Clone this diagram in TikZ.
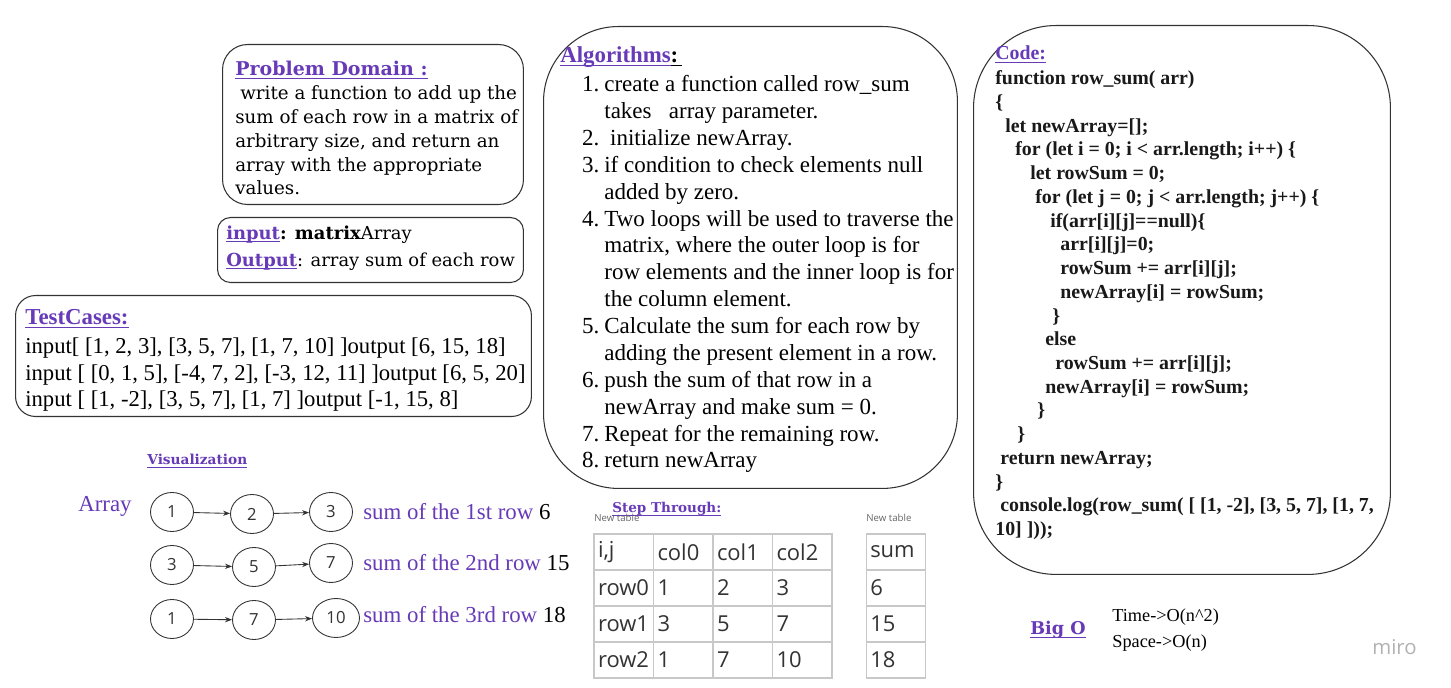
\documentclass[tikz,border=0pt]{standalone}
\usepackage{fontspec}
\setmainfont{Liberation Serif}
\newfontfamily\dvserif{DejaVu Serif}
\newfontfamily\osans{Open Sans}
\usetikzlibrary{positioning,arrows.meta,shapes.geometric}

\definecolor{purp}{RGB}{103,58,183}
\definecolor{inkgray}{RGB}{51,51,51}
\definecolor{gridgray}{RGB}{200,200,200}

\newsavebox{\ulbox}
\newcommand{\uln}[1]{\sbox{\ulbox}{#1}\rlap{\rule[-1.5pt]{\wd\ulbox}{0.45pt}}\usebox{\ulbox}}
\newcommand{\anum}[1]{\makebox[0.34cm][r]{#1}\hspace{0.1cm}}
\newcommand{\acont}{\hspace*{0.44cm}}

\begin{document}
\begin{tikzpicture}[x=0.02cm, y=-0.02cm,
  % Box Styles
  card/.style={rectangle, draw=inkgray, line width=0.6pt, inner sep=0pt, anchor=north west},
  % Text Styles (multi-line texts sit on the baseline of their last line)
  txt/.style={anchor=base west, inner sep=0pt, align=left, text=black},
  head/.style={txt, text=purp},
  bubble/.style={ellipse, draw=inkgray, line width=0.5pt, minimum width=0.86cm, minimum height=0.78cm, inner sep=0pt, font=\osans\fontsize{9.5}{11}\selectfont, text=inkgray},
  cell/.style={rectangle, draw=gridgray, line width=0.6pt, minimum height=0.72cm, text width=1.03cm, inner xsep=0.08cm, align=left, font=\osans\fontsize{12.5}{14}\selectfont, text=inkgray},
  % Arrow Styles
  link/.style={-{Stealth[length=4pt,width=3pt]}, line width=0.5pt, inkgray},
]
\useasboundingbox (0,0) rectangle (1451,688);
\fill[white] (0,0) rectangle (1451,688);

% Boxes
\node[card, rounded corners=0.5cm, minimum width=6.02cm, minimum height=3.2cm] (pdbox) at (222,44) {};
\node[card, rounded corners=0.26cm, minimum width=6.12cm, minimum height=1.3cm] (iobox) at (217,217) {};
\node[card, rounded corners=0.4cm, minimum width=10.32cm, minimum height=2.42cm] (tcbox) at (15,295) {};
\node[card, rounded corners=1.5cm, minimum width=8.28cm, minimum height=9.24cm] (algbox) at (543,26) {};
\node[card, rounded corners=1.65cm, minimum width=8.34cm, minimum height=10.98cm] (codebox) at (973,25) {};

% Problem domain
\node[head, font=\dvserif\bfseries\fontsize{10.8}{13}\selectfont] (pdtitle) at (235,76) {\uln{Problem Domain :}};
\node[txt, font=\dvserif\fontsize{10.4}{13.6}\selectfont] (pdtext) at (235,195) {\hspace*{0.1cm}write a function to add up the\\ sum of each row in a matrix of\\ arbitrary size, and return an\\ array with the appropriate\\ values.};

% Input / output
\node[txt, font=\dvserif\fontsize{10.2}{15.3}\selectfont] (iotext) at (226,266.5) {\textcolor{purp}{\uln{\textbf{input}}}\textbf{: matrix}Array\\ \textcolor{purp}{\uln{\textbf{Output}}}: array sum of each row};

% Test cases
\node[head, font=\bfseries\fontsize{13}{15.3}\selectfont] (tctitle) at (25,325) {\uln{TestCases:}};
\node[txt, font=\fontsize{12.9}{15.3}\selectfont] (tctext) at (25,407) {input[ [1, 2, 3], [3, 5, 7], [1, 7, 10] ]output [6, 15, 18]\\ input [ [0, 1, 5], [-4, 7, 2], [-3, 12, 11] ]output [6, 5, 20]\\ input [ [1, -2], [3, 5, 7], [1, 7] ]output [-1, 15, 8]};

% Algorithms
\node[txt, font=\bfseries\fontsize{13}{15.3}\selectfont] (algtitle) at (560,63) {\textcolor{purp}{\uln{Algorithms}}\uln{:\,}};
\node[txt, font=\fontsize{13.1}{15.3}\selectfont] (algtext) at (582,468) {\anum{1.}create a function called row\_sum\\
\acont takes \ \ array parameter.\\
\anum{2.}\ initialize newArray.\\
\anum{3.}if condition to check elements null\\
\acont added by zero.\\
\anum{4.}Two loops will be used to traverse the\\
\acont matrix, where the outer loop is for\\
\acont row elements and the inner loop is for\\
\acont the column element.\\
\anum{5.}Calculate the sum for each row by\\
\acont adding the present element in a row.\\
\anum{6.}push the sum of that row in a\\
\acont newArray and make sum = 0.\\
\anum{7.}Repeat for the remaining row.\\
\anum{8.}return newArray};

% Code
\node[head, font=\bfseries\fontsize{11.3}{13.5}\selectfont] (codetitle) at (995,60) {\uln{Code:}};
\node[txt, text=black!90, font=\bfseries\fontsize{11.3}{13.5}\selectfont] (codetext) at (995,535.5) {function row\_sum( arr)\\
\{\\
\hspace*{0.2cm}let newArray=[];\\
\hspace*{0.4cm}for (let i = 0; i < arr.length; i++) \{\\
\hspace*{0.7cm}let rowSum = 0;\\
\hspace*{0.8cm}for (let j = 0; j < arr.length; j++) \{\\
\hspace*{1.1cm}if(arr[i][j]==null)\{\\
\hspace*{1.3cm}arr[i][j]=0;\\
\hspace*{1.3cm}rowSum += arr[i][j];\\
\hspace*{1.3cm}newArray[i] = rowSum;\\
\hspace*{1.14cm}\}\\
\hspace*{1.0cm}else\\
\hspace*{1.2cm}rowSum += arr[i][j];\\
\hspace*{1.0cm}newArray[i] = rowSum;\\
\hspace*{0.84cm}\}\\
\hspace*{0.44cm}\}\\
\hspace*{0.1cm}return newArray;\\
\}\\
\hspace*{0.1cm}console.log(row\_sum( [ [1, -2], [3, 5, 7], [1, 7,\\
10] ]));};

% Visualization
\node[head, font=\dvserif\bfseries\fontsize{7.8}{9}\selectfont] (vistitle) at (147,465) {\uln{Visualization}};
\node[txt, text=purp, font=\fontsize{13}{15}\selectfont] (arrlbl) at (78,512) {Array};

\node[bubble] (r1a) at (172,512) {1};
\node[bubble] (r1b) at (252,514) {2};
\node[bubble] (r1c) at (331,512) {3};
\node[bubble] (r2a) at (172,565) {3};
\node[bubble] (r2b) at (254,567) {5};
\node[bubble] (r2c) at (331,563) {7};
\node[bubble] (r3a) at (172,619) {1};
\node[bubble] (r3b) at (254,620) {7};
\node[bubble, minimum width=0.94cm] (r3c) at (336,618) {10};

\draw[link] (r1a) -- (r1b);
\draw[link] (r1b) -- (r1c);
\draw[link] (r2a) -- (r2b);
\draw[link] (r2b) -- (r2c);
\draw[link] (r3a) -- (r3b);
\draw[link] (r3b) -- (r3c);

\node[txt, font=\fontsize{13}{15}\selectfont] (sum1) at (363,520) {\textcolor{purp}{sum of the 1st row} 6};
\node[txt, font=\fontsize{13}{15}\selectfont] (sum2) at (363,571) {\textcolor{purp}{sum of the 2nd row} 15};
\node[txt, font=\fontsize{13}{15}\selectfont] (sum3) at (363,623) {\textcolor{purp}{sum of the 3rd row} 18};

% Step through tables
\node[head, font=\dvserif\bfseries\fontsize{7.7}{9}\selectfont] (steptitle) at (612,513) {\uln{Step Through:}};
\node[txt, text=black!60, font=\osans\fontsize{5.5}{6}\selectfont] (tabcap1) at (594,522) {New table};
\node[txt, text=black!60, font=\osans\fontsize{5.5}{6}\selectfont] (tabcap2) at (866,522) {New table};

\foreach [count=\r from 0] \rowtxt in {{{i,j},col0,col1,col2},{row0,1,2,3},{row1,3,5,7},{row2,1,7,10}}
  \foreach [count=\c from 0] \celltxt in \rowtxt
    \node[cell] (m-\r-\c) at ({623.75+59.5*\c},{552+36*\r}) {\celltxt};
\foreach [count=\r from 0] \celltxt in {sum,6,15,18}
  \node[cell] (s-\r) at (896,{552+36*\r}) {\celltxt};

% Big O
\node[head, font=\dvserif\bfseries\fontsize{10}{12}\selectfont] (bigo) at (1030,635) {\uln{Big O}};
\node[txt, font=\fontsize{10.4}{15.3}\selectfont] (cplx) at (1112,648) {Time->O(n\textasciicircum 2)\\ Space->O(n)};

\node[txt, text=black!30, font=\osans\fontsize{11.6}{13}\selectfont] (miro) at (1372,655) {miro};
\end{tikzpicture}
\end{document}
